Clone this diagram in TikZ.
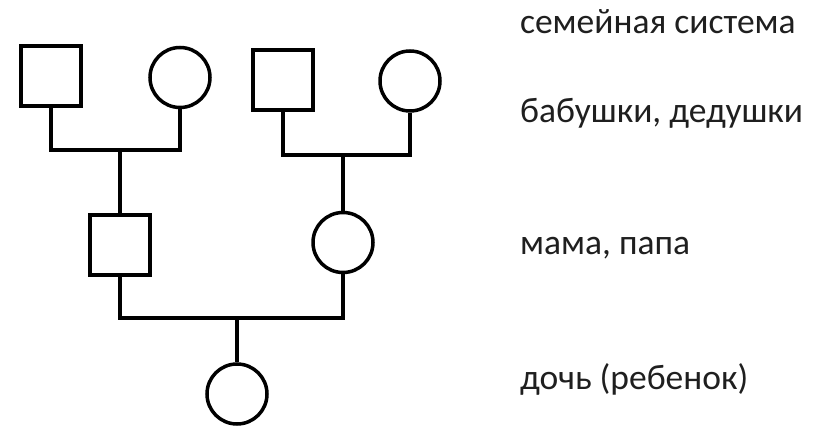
\documentclass[tikz,border=0pt]{standalone}
\usepackage{fontspec}
\setmainfont{Carlito}
\begin{document}
\begin{tikzpicture}[x=1pt,y=-1pt,
  male/.style={draw=black,line width=4pt,minimum size=60pt,inner sep=0pt,shape=rectangle},
  female/.style={draw=black,line width=3.5pt,minimum size=60pt,inner sep=0pt,shape=circle},
  link/.style={draw=black,line width=4pt,line join=miter},
  lbl/.style={anchor=base west,inner sep=0pt,font=\fontsize{35.5}{42}\selectfont,text=black!88}]
\useasboundingbox (0,0) rectangle (820,427);
\fill[white] (0,0) rectangle (820,427);
% grandparents
\node[male] (gf1) at (51,76.5) {};
\node[female] (gm1) at (180,77.5) {};
\node[male] (gf2) at (283,80) {};
\node[female] (gm2) at (410,81) {};
% parents
\node[male] (dad) at (120,245.5) {};
\node[female] (mom) at (343,242.5) {};
% child
\node[female] (kid) at (237,394) {};
% junctions
\coordinate (j1) at (120,150);
\coordinate (j2) at (343,155);
\coordinate (j3) at (237,318);
\draw[link] (gf1.south) |- (j1) -| (gm1.south);
\draw[link] (j1) -- (dad.north);
\draw[link] (gf2.south) |- (j2) -| (gm2.south);
\draw[link] (j2) -- (mom.north);
\draw[link] (dad.south) |- (j3) -| (mom.south);
\draw[link] (j3) -- (kid.north);
% labels
\node[lbl] (t1) at (520,34) {семейная система};
\node[lbl] (t2) at (520,123) {бабушки, дедушки};
\node[lbl] (t3) at (520,255) {мама, папа};
\node[lbl] (t4) at (520,390) {дочь (ребенок)};
\end{tikzpicture}
\end{document}
